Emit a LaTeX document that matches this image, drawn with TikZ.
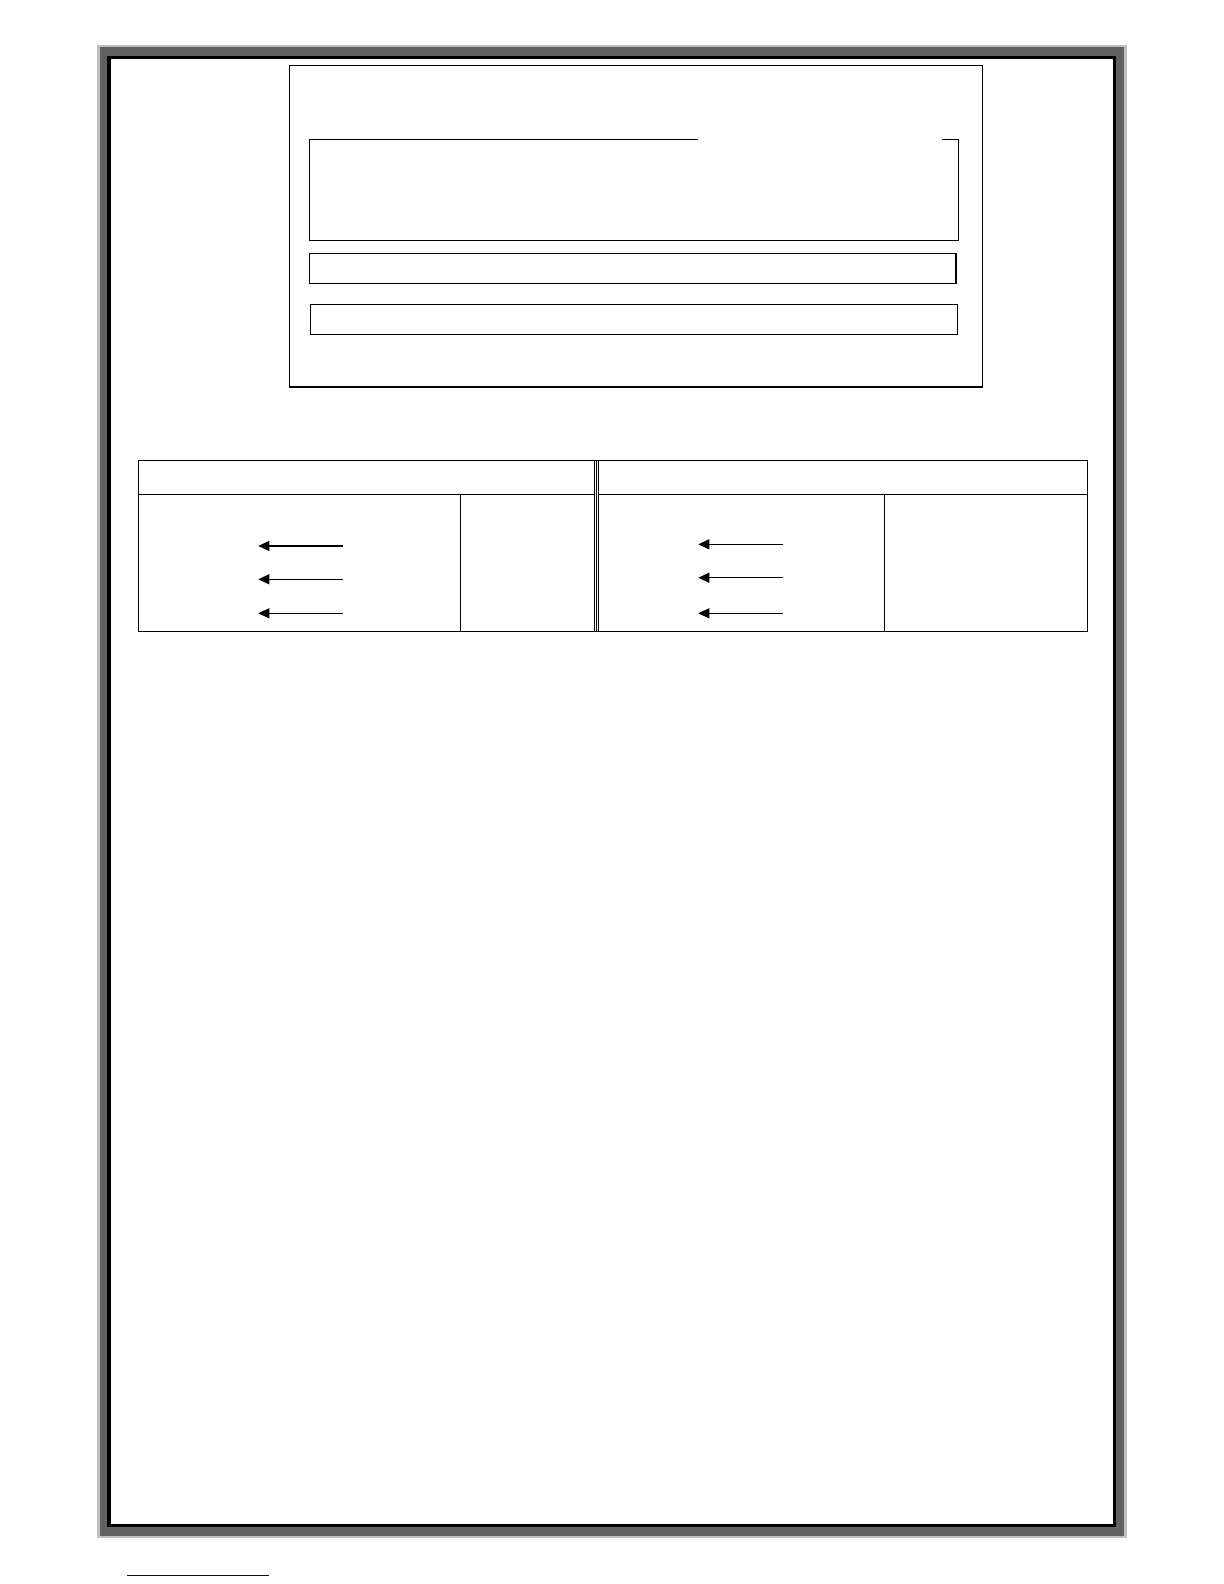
\documentclass[tikz,border=0pt]{standalone}
\usepackage{tikz}
\usetikzlibrary{arrows.meta}

\begin{document}
\begin{tikzpicture}[
        x=0.5pt, y=-0.5pt,
        box/.style={line width=0.7pt},
        cell/.style={line width=0.7pt},
        sep/.style={line width=0.35pt},
        arr/.style={-{Triangle[length=5.5pt,width=5pt]}, line width=0.7pt}
    ]
    \useasboundingbox (0,0) rectangle (1224,1584);

    % page border
    \fill[black!25] (97.3,44.7) rectangle (1126.7,1537.5);
    \fill[black!62] (100,46.7) rectangle (1124,1535.5);
    \fill[black] (107.3,55.7) rectangle (1116,1527);
    \fill[white] (110.7,59) rectangle (1113.3,1523.5);

    % top frame
    \draw[box] (289.3,65.3) rectangle (982.3,387);
    \draw[box] (697.7,139.3) -- (309.3,139.3) -- (309.3,240.3) -- (958.3,240.3) -- (958.3,139.3) -- (941.7,139.3);
    \draw[box] (309.3,253.3) rectangle (956.1,283.3);
    \draw[box] (310.2,304.3) rectangle (957.4,334.3);

    % table
    \draw[cell] (138.3,460.5) rectangle (1087.3,631.3);
    \draw[cell] (138.3,494.2) -- (594.8,494.2);
    \draw[cell] (598.4,494.2) -- (1087.3,494.2);
    \draw[cell] (460.3,494.2) -- (460.3,631.3);
    \draw[cell] (884.3,494.2) -- (884.3,631.3);
    \foreach \x in {594.8,596.6,598.4}
        \draw[sep] (\x,460.5) -- (\x,631.3);

    % arrows
    \foreach \i/\y in {1/546,2/579.3,3/613.3} {
        \coordinate (lt\i) at (343.3,\y);
        \coordinate (lh\i) at (258.3,\y);
        \draw[arr] (lt\i) -- (lh\i);
    }
    \foreach \i/\y in {1/544.3,2/577.7,3/613.3} {
        \coordinate (rt\i) at (783.3,\y);
        \coordinate (rh\i) at (698.3,\y);
        \draw[arr] (rt\i) -- (rh\i);
    }

    % link underline
    \coordinate (ua) at (127,1575);
    \coordinate (ub) at (269,1575);
    \draw[blue!50!black, line width=0.5pt] (ua) -- (ub);
\end{tikzpicture}
\end{document}
